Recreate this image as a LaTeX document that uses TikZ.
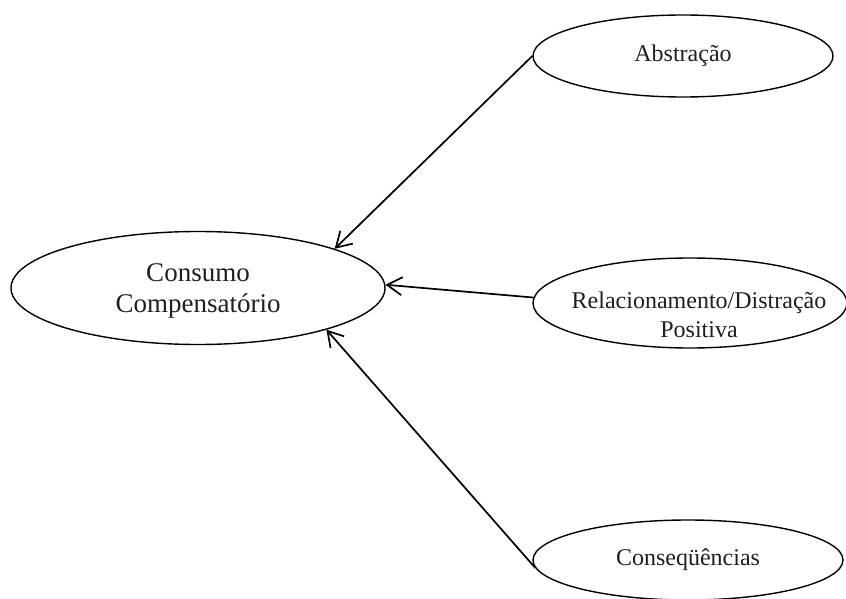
\documentclass[tikz,border=0pt]{standalone}
\usepackage{fontspec}
\setmainfont{Liberation Serif}
\usetikzlibrary{shapes.geometric,arrows.meta}

\begin{document}
\begin{tikzpicture}[x=1pt,y=-1pt,
    oval/.style={ellipse,draw,line width=1.4pt,inner sep=0pt},
    txt/.style={text=black!88,align=center,font=\fontsize{24}{29}\selectfont},
    arr/.style={-{Straight Barb[length=15pt,width=18pt,line width=1.7pt]},line width=1.7pt}]
    \useasboundingbox (0,0) rectangle (846,599);

    % Consumo
    \node[oval,txt,minimum width=374pt,minimum height=113pt,text depth=0pt,
          font=\fontsize{27}{31}\selectfont] (consumo) at (198,288) {Consumo\\Compensatório};

    % Causes
    \node[oval,txt,minimum width=300pt,minimum height=82pt] (abstracao) at (683,56) {Abstração};
    \node[oval,minimum width=314pt,minimum height=90pt] (relac) at (690,303) {};
    \node[txt] (relactxt) at (699,315) {Relacionamento/Distração\\Positiva};
    \node[oval,txt,minimum width=310pt,minimum height=80pt] (conseq) at (688,560) {Conseqüências};

    % Arrows
    \draw[arr] (abstracao.west) -- (consumo.16);
    \draw[arr] (relac.178) -- (consumo.1);
    \draw[arr] (conseq.183) -- (consumo.-18);
\end{tikzpicture}
\end{document}
